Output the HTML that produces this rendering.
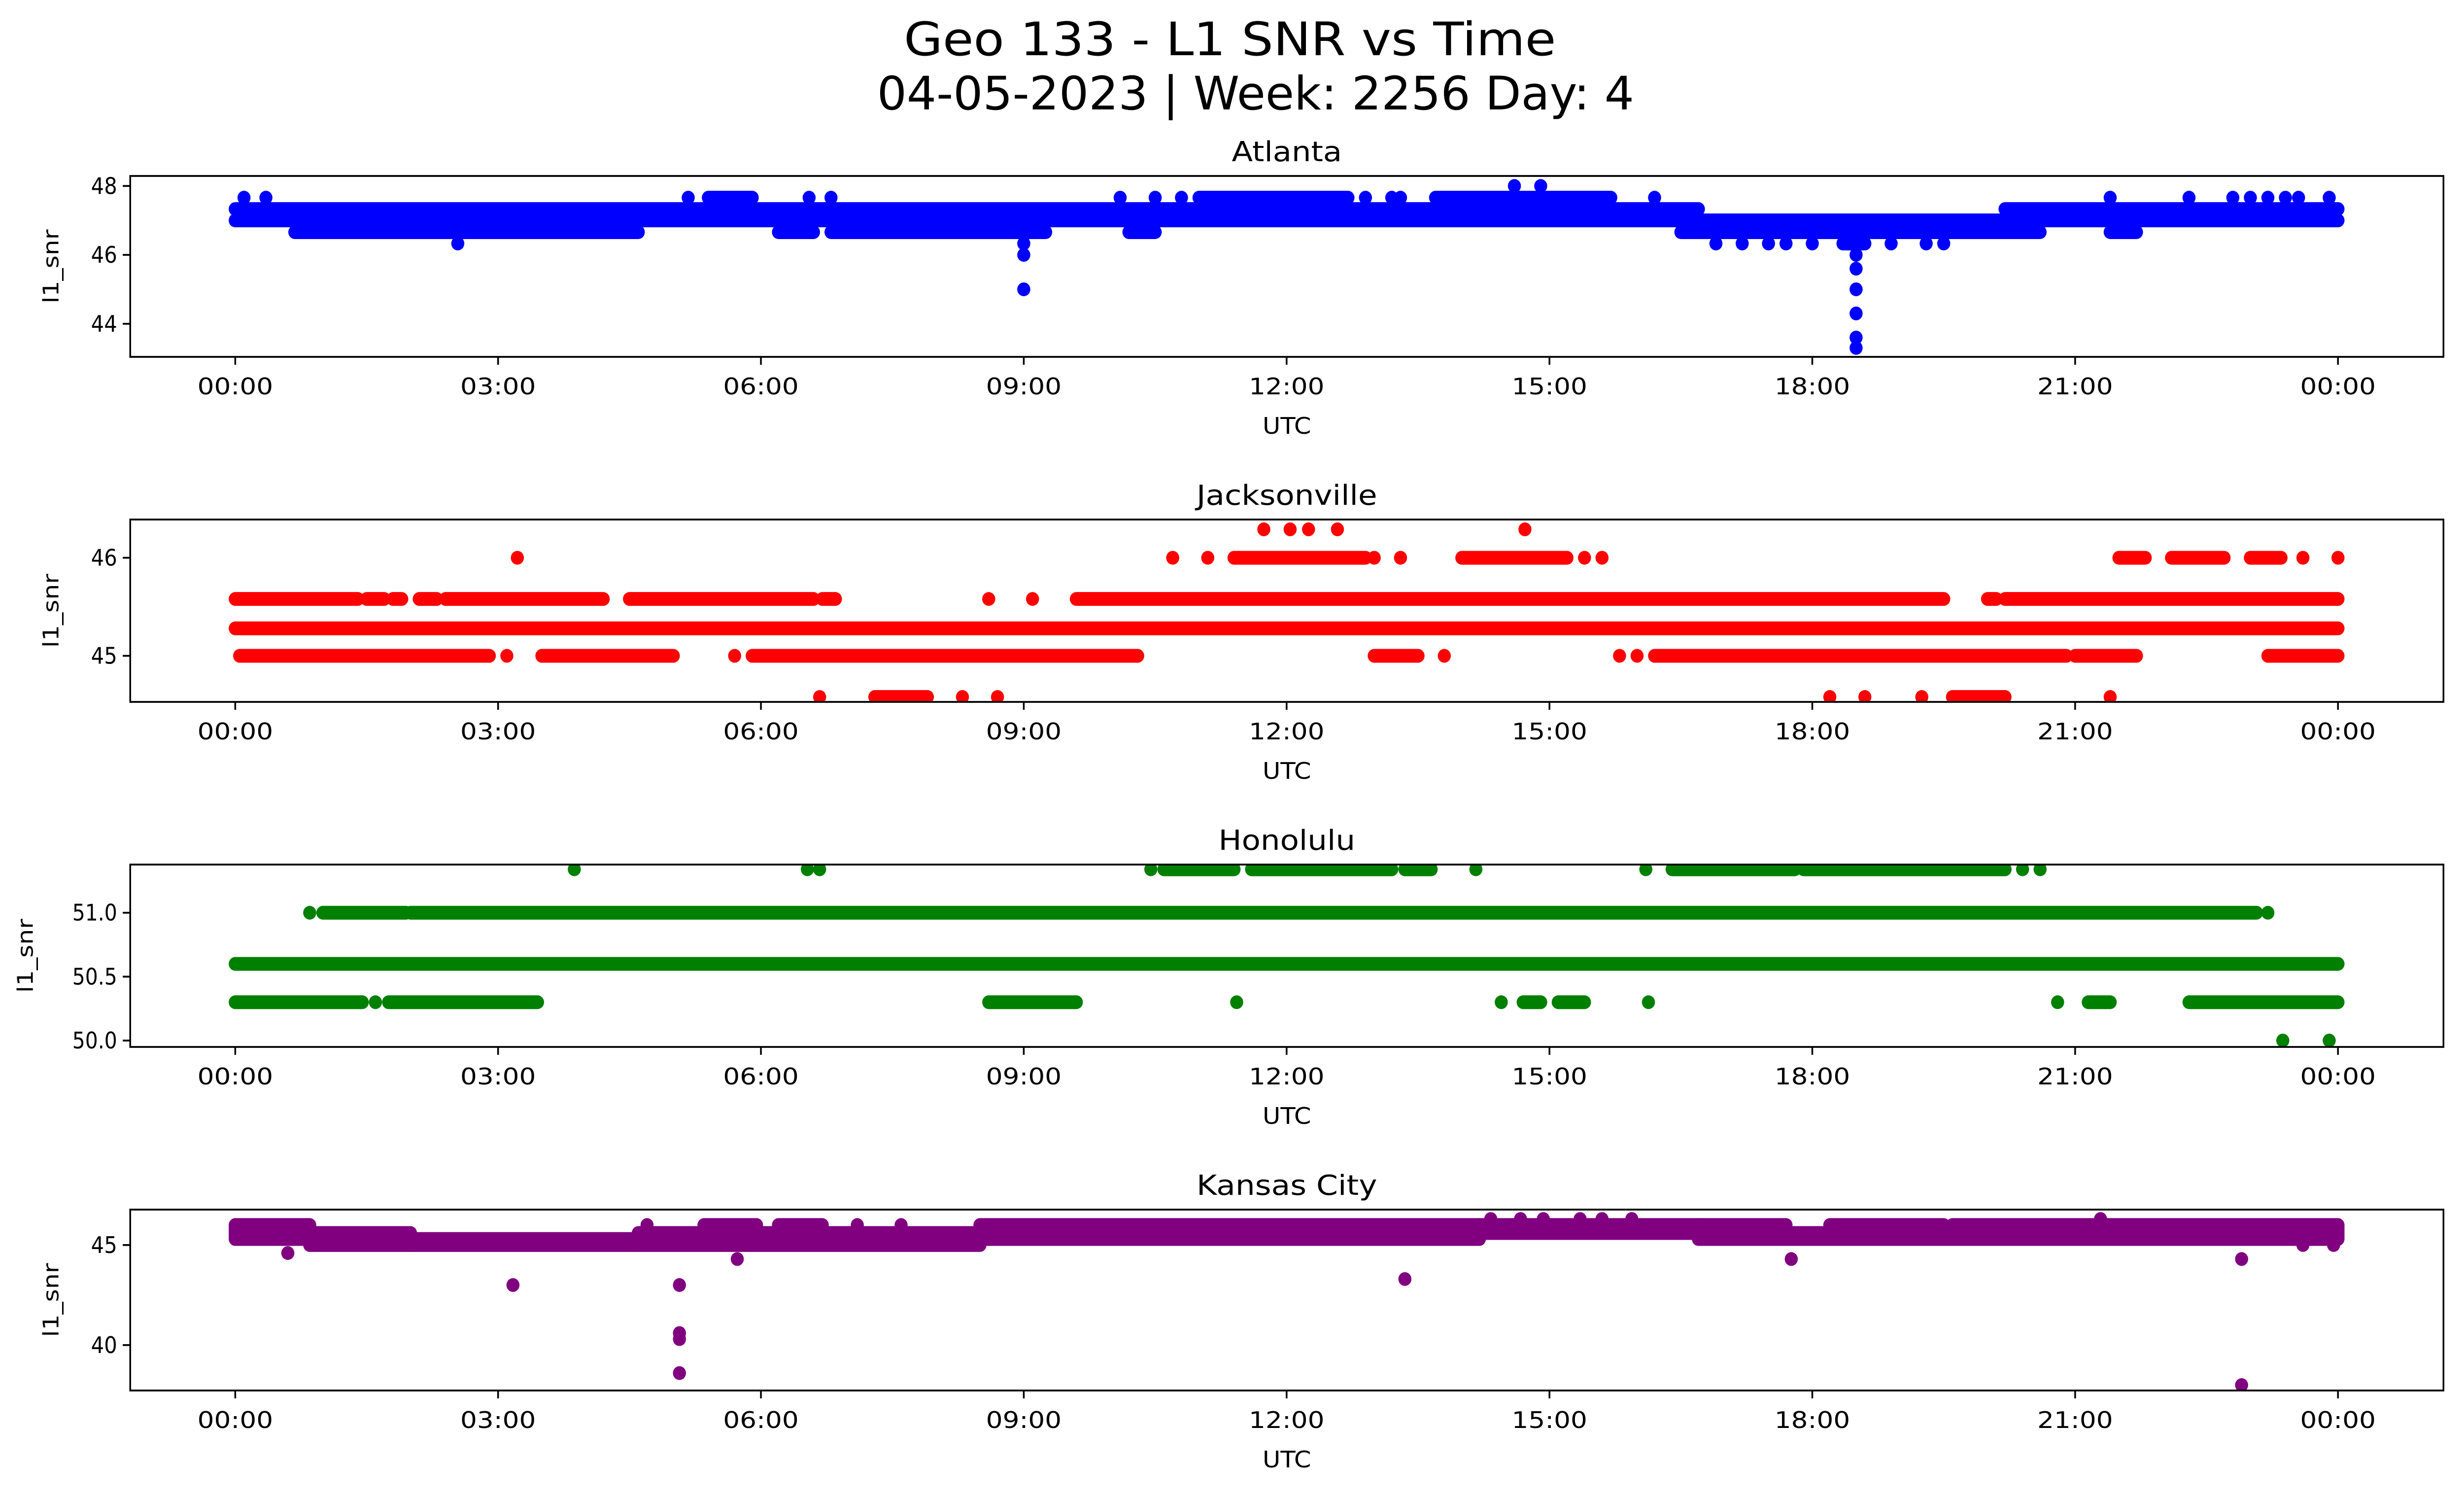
<!DOCTYPE html>
<html><head><meta charset="utf-8"><style>
html,body{margin:0;padding:0;background:#fff;overflow:hidden;width:100vw;height:100vh}
svg{display:block;width:100vw;height:100vh}
text{font-family:"DejaVu Sans","Liberation Sans",sans-serif;fill:#000}
</style></head><body>
<svg id="fig" xmlns="http://www.w3.org/2000/svg" viewBox="0 0 5279 3033" preserveAspectRatio="none">
<rect width="5279" height="3033" fill="#fff"/>
<text x="2635" y="112" font-size="94" text-anchor="middle" textLength="1397" lengthAdjust="spacingAndGlyphs">Geo 133 - L1 SNR vs Time</text>
<text x="2690" y="222" font-size="94" text-anchor="middle" textLength="1622" lengthAdjust="spacingAndGlyphs">04-05-2023 | Week: 2256 Day: 4</text>
</svg>
<script>
// x tick labels (hours)
const xTickHours = [0,3,6,9,12,15,18,21,24];
const xTickLabels = ["00:00","03:00","06:00","09:00","12:00","15:00","18:00","21:00","00:00"];

// Atlanta: runs [startHour, endHour, snr], points [hour, snr]
const atlRuns = [[0,16.7,47.33],[20.2,24,47.33],[0,24,47.0],[16.5,20.3,46.66],[0.68,4.6,46.66],[6.2,6.6,46.66],[6.8,9.0,46.66],[9.0,9.25,46.66],[10.2,10.5,46.66],[20.3,20.6,46.66],[21.4,21.7,46.66],[5.4,5.9,47.66],[11.0,12.7,47.66],[13.7,15.7,47.66],[18.35,18.6,46.33]];
const atlPoints = [[0.1,47.66],[0.35,47.66],[5.17,47.66],[5.9,47.66],[6.55,47.66],[6.8,47.66],[10.1,47.66],[10.5,47.66],[10.8,47.66],[12.9,47.66],[13.2,47.66],[13.3,47.66],[16.2,47.66],[21.4,47.66],[22.3,47.66],[22.8,47.66],[23.0,47.66],[23.2,47.66],[23.4,47.66],[23.55,47.66],[23.9,47.66],[14.6,48.0],[14.9,48.0],[2.54,46.33],[16.9,46.33],[17.2,46.33],[17.5,46.33],[17.7,46.33],[18.0,46.33],[18.9,46.33],[19.3,46.33],[19.5,46.33],[9.0,46.33],[9.0,46.0],[9.0,45.0],[18.5,46.0],[18.5,45.6],[18.5,45.0],[18.5,44.3],[18.5,43.6],[18.5,43.3]];
// Jacksonville
const jaxRuns = [[0,24,45.28],[0,1.4,45.58],[1.5,1.7,45.58],[1.8,1.9,45.58],[2.1,2.3,45.58],[2.4,4.2,45.58],[4.5,6.6,45.58],[6.7,6.85,45.58],[9.6,19.5,45.58],[20.0,20.1,45.58],[20.2,24,45.58],[11.4,12.9,46.0],[14.0,15.2,46.0],[21.5,21.8,46.0],[22.1,22.7,46.0],[23.0,23.35,46.0],[0.05,2.9,45.0],[3.5,5.0,45.0],[5.9,10.3,45.0],[13.0,13.5,45.0],[16.2,20.9,45.0],[21.0,21.7,45.0],[23.2,24,45.0],[7.3,7.9,44.58],[19.6,20.2,44.58]];
const jaxPoints = [[8.6,45.58],[9.1,45.58],[3.22,46.0],[10.7,46.0],[11.1,46.0],[13.0,46.0],[13.3,46.0],[15.4,46.0],[15.6,46.0],[23.6,46.0],[24,46.0],[11.74,46.29],[12.04,46.29],[12.25,46.29],[12.58,46.29],[14.72,46.29],[3.1,45.0],[5.7,45.0],[13.8,45.0],[15.8,45.0],[16.0,45.0],[6.67,44.58],[8.3,44.58],[8.7,44.58],[18.2,44.58],[18.6,44.58],[19.25,44.58],[21.4,44.58]];
// Honolulu
const hnlRuns = [[0,24,50.6],[1.0,1.95,51.0],[2.0,23.07,51.0],[0,1.45,50.3],[1.75,3.45,50.3],[8.6,9.6,50.3],[14.7,14.9,50.3],[15.1,15.4,50.3],[21.15,21.4,50.3],[22.3,24,50.3],[10.6,11.4,51.34],[11.6,13.2,51.34],[13.35,13.65,51.34],[16.4,17.8,51.34],[17.9,20.2,51.34]];
const hnlPoints = [[0.85,51.0],[23.2,51.0],[1.6,50.3],[11.43,50.3],[14.45,50.3],[16.13,50.3],[20.8,50.3],[3.87,51.34],[6.53,51.34],[6.67,51.34],[10.45,51.34],[14.16,51.34],[16.1,51.34],[20.4,51.34],[20.6,51.34],[23.37,50.0],[23.9,50.0]];
// Kansas City: bands [startHour, endHour, lowSnr, highSnr]
const mciBands = [[0,0.85,45.3,46.0],[0.85,2.0,45.0,45.6],[2.0,4.6,45.0,45.3],[4.6,8.5,45.0,45.6],[8.5,14.2,45.3,46.0],[14.2,16.7,45.6,46.0],[16.7,19.6,45.3,45.6],[19.6,24,45.3,46.0]];
const mciRuns = [[5.35,5.95,46.0],[6.2,6.7,46.0],[16.7,17.7,46.0],[18.2,19.5,46.0]];
const mciPoints = [[4.7,46.0],[7.1,46.0],[7.6,46.0],[14.33,46.3],[14.67,46.3],[14.93,46.3],[15.35,46.3],[15.6,46.3],[15.94,46.3],[21.29,46.3],[0.6,44.6],[5.73,44.3],[17.76,44.3],[22.9,44.3],[3.17,43.0],[5.07,43.0],[13.35,43.3],[5.07,40.6],[5.07,40.3],[5.07,38.6],[22.9,38.0],[23.6,45.0],[23.95,45.0]];

const panels = [
 {name:"atlanta",title:"Atlanta",tw:236,color:"#0000ff",top:357,bottom:724,ymin:43.04,ymax:48.29,ticks:[44,46,48],tl:["44","46","48"],runs:atlRuns,points:atlPoints,bands:[]},
 {name:"jacksonville",title:"Jacksonville",tw:387,color:"#ff0000",top:1054,bottom:1424,ymin:44.53,ymax:46.39,ticks:[45,46],tl:["45","46"],runs:jaxRuns,points:jaxPoints,bands:[]},
 {name:"honolulu",title:"Honolulu",tw:293,color:"#008000",top:1754,bottom:2124,ymin:49.95,ymax:51.377,ticks:[50.0,50.5,51.0],tl:["50.0","50.5","51.0"],runs:hnlRuns,points:hnlPoints,bands:[]},
 {name:"kansas-city",title:"Kansas City",tw:387,color:"#800080",top:2454,bottom:2821,ymin:37.73,ymax:46.77,ticks:[40,45],tl:["40","45"],runs:mciRuns,points:mciPoints,bands:mciBands}
];
const NS="http://www.w3.org/2000/svg";
const svg=document.getElementById('fig');
const L=279,R=5235,R0=14;
function xs(h){return 504+(5009-504)*h/24;}
function mk(tag,attrs,parent){const e=document.createElementNS(NS,tag);for(const k in attrs)e.setAttribute(k,attrs[k]);parent.appendChild(e);return e;}
panels.forEach(p=>{
 const g=mk('g',{},svg);
 
 
 const ys=v=>p.bottom-(v-p.ymin)/(p.ymax-p.ymin)*(p.bottom-p.top);
 const clipId='clip-'+p.name;
 const cp=mk('clipPath',{id:clipId},g);mk('rect',{x:L,y:p.top,width:R-L,height:p.bottom-p.top},cp);
 const d=mk('g',{'clip-path':'url(#'+clipId+')',fill:p.color,stroke:p.color},g);
 
 
 p.bands.forEach(b=>{
  const r=mk('rect',{x:xs(b[0])-R0,y:ys(b[3])-R0,width:xs(b[1])-xs(b[0])+2*R0,height:ys(b[2])-ys(b[3])+2*R0,rx:R0,stroke:'none'},d);
  
  
 });
 p.runs.forEach(b=>{
  const l=mk('line',{x1:xs(b[0]),x2:xs(b[1]),y1:ys(b[2]),y2:ys(b[2]),'stroke-width':2*R0,'stroke-linecap':'round'},d);
  
  
 });
 p.points.forEach(pt=>{
  const c=mk('ellipse',{cx:xs(pt[0]),cy:ys(pt[1]),rx:R0,ry:R0,stroke:'none'},d);
  
  
 });
 const fr=mk('rect',{x:L,y:p.top,width:R-L,height:p.bottom-p.top,fill:'none',stroke:'#000','stroke-width':3.7},g);
 
 
 const t=mk('text',{x:(L+R)/2,y:p.top-30,'font-size':56,'text-anchor':'middle',textLength:p.tw,lengthAdjust:'spacingAndGlyphs'},g);t.textContent=p.title;
 
 
 xTickHours.forEach((h,i)=>{
  mk('line',{x1:xs(h),x2:xs(h),y1:p.bottom,y2:p.bottom+16,stroke:'#000','stroke-width':3.7},g);
  const tx=mk('text',{x:xs(h),y:p.bottom+76,'font-size':46,'text-anchor':'middle',textLength:162,lengthAdjust:'spacingAndGlyphs'},g);tx.textContent=xTickLabels[i];
  
  
 });
 const xl=mk('text',{x:(L+R)/2,y:p.bottom+156,'font-size':46,'text-anchor':'middle',textLength:104,lengthAdjust:'spacingAndGlyphs'},g);xl.textContent='UTC';
 
 
 p.ticks.forEach((v,i)=>{
  mk('line',{x1:L,x2:L-16,y1:ys(v),y2:ys(v),stroke:'#000','stroke-width':3.7},g);
  const ty=mk('text',{x:L-28,y:ys(v)+16,'font-size':46,'text-anchor':'end',textLength:p.tl[i].length>2?96:56,lengthAdjust:'spacingAndGlyphs'},g);ty.textContent=p.tl[i];
  
  
 });
 const cy=(p.top+p.bottom)/2, cx=p.name==='honolulu'?70:125;
 const yl=mk('text',{x:cx,y:cy,'font-size':46,'text-anchor':'middle',textLength:150,lengthAdjust:'spacingAndGlyphs',transform:'rotate(-90 '+cx+' '+cy+')'},g);yl.textContent='l1_snr';
 
 
});
</script>
</body></html>
